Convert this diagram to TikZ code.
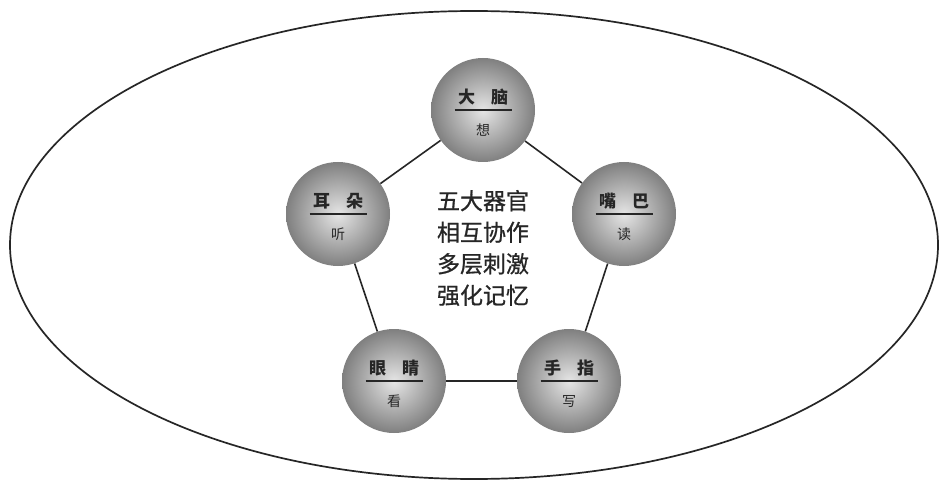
\documentclass[tikz,border=0pt]{standalone}
\usepackage{fontspec}
\newfontfamily\cjk{Noto Sans CJK SC}
\newfontfamily\cjkb[FakeBold=0.8]{Noto Sans CJK SC}
\usetikzlibrary{calc,shapes.geometric}
\definecolor{ink}{gray}{0.15}
\tikzset{
  organ/.style={circle, minimum size=104pt, inner sep=0pt, shading=radial,
    inner color=black!10, outer color=black!50},
  link/.style={draw=ink, line width=1.6pt},
  toplabel/.style={font=\cjk\fontsize{17pt}{18pt}\selectfont\bfseries, text=ink, inner sep=0pt},
  botlabel/.style={font=\cjk\fontsize{14pt}{15pt}\selectfont, text=ink, inner sep=0pt},
  rulebar/.style={draw=ink, line width=1.6pt},
  centertext/.style={font=\cjkb\fontsize{23pt}{31.5pt}\selectfont, text=ink, align=center, inner sep=0pt}
}
\newcommand{\organlabel}[3]{%
  \node[toplabel] at ($(#1)+(0,-13)$) {#2};
  \draw[rulebar] ($(#1)+(-28.5,0)$) -- ($(#1)+(28.5,0)$);
  \node[botlabel] at ($(#1)+(0,20)$) {#3};
}
\begin{document}
\begin{tikzpicture}[x=1pt,y=-1pt]
\useasboundingbox (0,0) rectangle (939,481);
\fill[white] (0,0) rectangle (939,481);
\node[draw=ink, line width=1.7pt, ellipse, minimum width=928pt, minimum height=468pt, inner sep=0pt] (frame) at (474,245) {};
% pentagon centre (481,260), R=150
\node[organ] (brain) at (483,110) {};
\node[organ] (mouth) at (624,214) {};
\node[organ] (hand)  at (569,381) {};
\node[organ] (eye)   at (394,381) {};
\node[organ] (ear)   at (338,214) {};
\draw[link] (brain) -- (mouth);
\draw[link] (mouth) -- (hand);
\draw[link] (hand) -- (eye);
\draw[link] (eye) -- (ear);
\draw[link] (ear) -- (brain);
\organlabel{brain}{大\hspace{16pt}脑}{想}
\organlabel{mouth}{嘴\hspace{16pt}巴}{读}
\organlabel{hand}{手\hspace{16pt}指}{写}
\organlabel{eye}{眼\hspace{16pt}睛}{看}
\organlabel{ear}{耳\hspace{16pt}朵}{听}
\node[centertext] (core) at (483,248) {五大器官\\相互协作\\多层刺激\\强化记忆};
\end{tikzpicture}
\end{document}
